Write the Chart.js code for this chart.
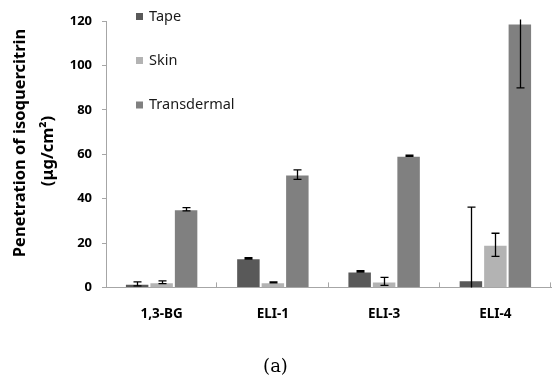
<!DOCTYPE html>
<html>
<head>
<meta charset="utf-8">
<script src="https://cdn.jsdelivr.net/npm/chart.js@4/dist/chart.umd.min.js"></script>
<style>
  html, body { margin: 0; padding: 0; background: #fff; }
  #wrap { width: 552px; height: 380px; position: relative; }
</style>
</head>
<body>
<div id="wrap"><canvas id="c" width="552" height="380"></canvas></div>
<script>
// Formulations
const categories = ['1,3-BG', 'ELI-1', 'ELI-3', 'ELI-4'];

// Isoquercitrin recovered (µg/cm²), mean values
const tape = [1.6, 13.1, 7.2, 3.2];
const skin = [2.3, 2.3, 2.7, 19.2];
const transdermal = [35.2, 50.8, 59.3, 118.9];

// Standard deviations
const tapeErr = [0.9, 0.3, 0.3, 33];
const skinErr = [0.6, 0.2, 1.8, 5.2];
const transdermalErr = [0.7, 2.1, 0.3, 29];

// Y axis ticks
const yTicks = [0, 20, 40, 60, 80, 100, 120];

const seriesNames = ['Tape', 'Skin', 'Transdermal'];
const seriesColors = ['#595959', '#b3b3b3', '#808080'];
const errors = [tapeErr, skinErr, transdermalErr];

const AXIS = '#a6a6a6';
const SANS = '"Noto Sans", "Open Sans", sans-serif';

// Error bars with caps; a whisker that runs past the axis range is cut at the edge without a cap
const errorBars = {
  id: 'errorBars',
  afterDatasetsDraw(chart) {
    const { ctx, scales: { y } } = chart;
    const yMin = y.min, yMax = y.max;
    ctx.save();
    ctx.strokeStyle = '#000';
    ctx.lineWidth = 1.3;
    chart.data.datasets.forEach((ds, di) => {
      const meta = chart.getDatasetMeta(di);
      meta.data.forEach((bar, i) => {
        const v = ds.data[i], e = errors[di][i];
        const hi = v + e, lo = v - e;
        const yHi = y.getPixelForValue(Math.min(hi, yMax));
        const yLo = y.getPixelForValue(Math.max(lo, yMin));
        const x = Math.round(bar.x) + 0.5;
        ctx.beginPath();
        ctx.moveTo(x, hi > yMax ? yHi - 1.5 : yHi);
        ctx.lineTo(x, yLo);
        if (hi <= yMax) { ctx.moveTo(x - 4, yHi); ctx.lineTo(x + 4, yHi); }
        if (lo >= yMin) { ctx.moveTo(x - 4, yLo); ctx.lineTo(x + 4, yLo); }
        ctx.stroke();
      });
    });
    ctx.restore();
  }
};

// Short inward ticks on the category axis at the group boundaries
const categoryTicks = {
  id: 'categoryTicks',
  afterDraw(chart) {
    const { ctx, chartArea } = chart;
    const n = chart.data.labels.length;
    const step = (chartArea.right - chartArea.left) / n;
    ctx.save();
    ctx.strokeStyle = AXIS;
    ctx.lineWidth = 1;
    for (let i = 1; i <= n; i++) {
      const px = Math.round(chartArea.left + step * i) - 0.5;
      ctx.beginPath();
      ctx.moveTo(px, chartArea.bottom);
      ctx.lineTo(px, chartArea.bottom - 5);
      ctx.stroke();
    }
    ctx.restore();
  }
};

// Two-line rotated title for the value axis
const valueAxisTitle = {
  id: 'valueAxisTitle',
  afterDraw(chart) {
    const { ctx } = chart;
    const lines = [
      { text: 'Penetration of isoquercitrin', x: 20.5, y: 143 },
      { text: '(μg/cm²)', x: 48, y: 151 }
    ];
    ctx.save();
    ctx.font = 'bold 16.5px ' + SANS;
    ctx.fillStyle = '#000';
    ctx.textAlign = 'center';
    ctx.textBaseline = 'middle';
    lines.forEach(l => {
      ctx.save();
      ctx.translate(l.x, l.y);
      ctx.rotate(-Math.PI / 2);
      ctx.fillText(l.text, 0, 0);
      ctx.restore();
    });
    ctx.restore();
  }
};

// Stacked legend inside the plot area
const innerLegend = {
  id: 'innerLegend',
  afterDraw(chart) {
    const { ctx } = chart;
    const rows = [16.5, 60.5, 105];
    ctx.save();
    ctx.font = '14.5px ' + SANS;
    ctx.textBaseline = 'middle';
    chart.data.datasets.forEach((ds, i) => {
      ctx.fillStyle = ds.backgroundColor;
      ctx.fillRect(136, rows[i] - 3.5, 7, 7);
      ctx.fillStyle = '#1a1a1a';
      ctx.fillText(ds.label, 149, rows[i]);
    });
    ctx.restore();
  }
};

const datasets = [tape, skin, transdermal].map((d, i) => ({
  label: seriesNames[i],
  data: d,
  backgroundColor: seriesColors[i],
  borderColor: 'rgba(255,255,255,0.35)',
  borderWidth: 1,
  categoryPercentage: 0.66,
  barPercentage: 1.0
}));

new Chart(document.getElementById('c'), {
  type: 'bar',
  data: { labels: categories, datasets },
  options: {
    responsive: false,
    animation: false,
    events: [],
    layout: { padding: { top: 21, right: 1, left: 0, bottom: 0 } },
    plugins: {
      legend: { display: false },
      tooltip: { enabled: false },
      title: {
        display: true,
        position: 'bottom',
        text: '(a)',
        color: '#000',
        font: { family: '"DejaVu Serif", "Liberation Serif", serif', size: 18, weight: 'normal', lineHeight: 1.2 },
        padding: { top: 29, bottom: 2 }
      }
    },
    scales: {
      x: {
        offset: true,
        grid: { display: true, drawOnChartArea: false, drawTicks: false, color: 'rgba(0,0,0,0)' },
        border: { color: AXIS, width: 1 },
        ticks: {
          color: '#000',
          font: { family: SANS, size: 13.5, weight: 'bold' },
          padding: 19
        },
        afterFit(s) { s.height = 40; }
      },
      y: {
        min: 0,
        max: 120,
        afterBuildTicks(s) { s.ticks = yTicks.map(v => ({ value: v })); },
        grid: { drawOnChartArea: false, drawTicks: true, tickLength: 4, color: AXIS },
        border: { color: AXIS, width: 1 },
        ticks: {
          color: '#000',
          font: { family: SANS, size: 13, weight: 'bold' },
          padding: 10
        },
        afterFit(s) { s.width = 106; }
      }
    }
  },
  plugins: [errorBars, categoryTicks, valueAxisTitle, innerLegend]
});
</script>
</body>
</html>
